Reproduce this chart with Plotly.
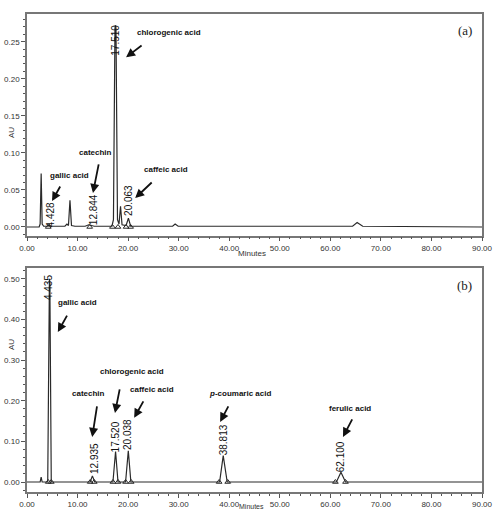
import plotly.graph_objects as go
from plotly.subplots import make_subplots

# ---------------- data ----------------
# Panel (a): chromatogram vertices (minutes, AU)
a_time = [0, 2.4, 2.6, 2.8, 3.0, 3.3, 4.2, 4.43, 4.7, 7.5, 7.9, 8.2, 8.5, 8.8, 9.5,
          11.5, 12.2, 12.84, 13.3, 16.8, 17.1, 17.4, 17.51, 17.6, 17.9, 18.2, 18.5,
          18.8, 19.6, 20.06, 20.5, 28.8, 29.3, 29.9, 34.2, 34.7, 35.2, 41.0, 41.5,
          42.0, 54.3, 55.0, 55.7, 64.4, 65.3, 66.4, 90]
a_au = [0, 0, 0.004, 0.072, 0.004, 0.001, 0.001, 0.003, 0.001, 0.001, 0.004, 0.002,
        0.036, 0.002, 0.001, 0.001, 0.003, 0.002, 0.001, 0.001, 0.010, 0.268, 0.272,
        0.268, 0.010, 0.004, 0.028, 0.003, 0.002, 0.012, 0.001, 0.001, 0.004, 0.001,
        0.001, 0.002, 0.001, 0.001, 0.0015, 0.001, 0.001, 0.002, 0.001, 0.001, 0.006,
        0.001, 0.0]
a_bounds = [4.2, 12.4, 16.9, 18.0, 19.6, 20.5]
a_rt_labels = ["4.428", "12.844", "17.510", "20.063"]
a_rt_x = [4.6, 13.3, 17.5, 20.1]
a_rt_y = [0.016, 0.023, 0.252, 0.036]
a_names = ["chlorogenic acid", "gallic acid", "catechin", "caffeic acid"]
a_name_x = [28.1, 8.5, 13.6, 27.5]
a_name_y = [0.262, 0.070, 0.100, 0.077]
a_arrow_x = [19.6, 4.95, 13.05, 21.4]
a_arrow_y = [0.229, 0.035, 0.046, 0.039]
a_arrow_ax = [17, 9, 6, 18]
a_arrow_ay = [-13, -16, -30, -17]

# Panel (b): standards chromatogram vertices (minutes, AU)
b_time = [0, 2.6, 2.8, 3.0, 4.1, 4.35, 4.435, 4.52, 4.8, 12.5, 12.935, 13.4, 17.0,
          17.52, 18.0, 19.5, 20.038, 20.55, 38.1, 38.813, 39.6, 61.2, 62.1, 63.0,
          67.5, 68.0, 68.5, 90]
b_au = [0, 0, 0.012, 0, 0, 0.49, 0.50, 0.49, 0, 0, 0.015, 0, 0, 0.075, 0, 0, 0.077,
        0, 0, 0.065, 0, 0, 0.024, 0, 0, 0.001, 0, 0]
b_bounds = [4.2, 4.8, 12.5, 13.3, 17.0, 18.0, 19.5, 20.6, 38.0, 39.7, 61.0, 63.0]
b_rt_labels = ["4.435", "12.935", "17.520", "20.038", "38.813", "62.100"]
b_rt_x = [4.4, 13.25, 17.5, 20.0, 38.8, 62.0]
b_rt_y = [0.478, 0.059, 0.111, 0.116, 0.103, 0.062]
b_names = ["gallic acid", "chlorogenic acid", "caffeic acid", "catechin",
           "<i>p</i>-coumaric acid", "ferulic acid"]
b_name_x = [9.9, 20.8, 24.7, 12.1, 42.1, 63.9]
b_name_y = [0.441, 0.271, 0.227, 0.219, 0.217, 0.182]
b_arrow_x = [6.1, 17.4, 21.2, 12.9, 38.2, 62.5]
b_arrow_y = [0.369, 0.170, 0.158, 0.111, 0.148, 0.111]
b_arrow_ax = [10, 5, 10, 5, 9, 10]
b_arrow_ay = [-18, -25, -18, -32, -17, -19]

x_ticks = [0, 10, 20, 30, 40, 50, 60, 70, 80, 90]
x_ticklabels = ["0.00", "10.00", "20.00", "30.00", "40.00", "50.00", "60.00",
                "70.00", "80.00", "90.00"]

# ---------------- figure ----------------
fig = make_subplots(rows=2, cols=1, vertical_spacing=0.07)
line_col = "#2a2a2a"

fig.add_trace(go.Scatter(x=a_time, y=a_au, mode="lines",
                         line=dict(color=line_col, width=1.2), showlegend=False),
              row=1, col=1)
fig.add_trace(go.Scatter(x=a_bounds, y=[0] * len(a_bounds), mode="markers",
                         marker=dict(symbol="triangle-up-open", size=5,
                                     color=line_col, line=dict(width=1)),
                         showlegend=False), row=1, col=1)
fig.add_trace(go.Scatter(x=b_time, y=b_au, mode="lines",
                         line=dict(color=line_col, width=1.2), showlegend=False),
              row=2, col=1)
fig.add_trace(go.Scatter(x=b_bounds, y=[0] * len(b_bounds), mode="markers",
                         marker=dict(symbol="triangle-up-open", size=5,
                                     color=line_col, line=dict(width=1)),
                         showlegend=False), row=2, col=1)

tick_font = dict(family="Liberation Sans, Arial", size=8, color="#333")
axis_common = dict(showline=True, linecolor="#777", linewidth=1.5, mirror=True,
                   ticks="outside", ticklen=4, tickcolor="#555", showgrid=False,
                   zeroline=False, tickfont=tick_font, automargin=False)

top_dom = [0.5366, 1.0]
bot_dom = [0.0, 0.468]
fig.update_layout(
    width=493, height=510,
    margin=dict(l=27, r=11, t=14, b=18, autoexpand=False),
    paper_bgcolor="white", plot_bgcolor="white",
    xaxis=dict(range=[0, 90], tickvals=x_ticks, ticktext=x_ticklabels,
               minor=dict(dtick=2, ticks="outside", ticklen=2, tickcolor="#555"),
               **axis_common),
    xaxis2=dict(range=[0, 90], tickvals=x_ticks, ticktext=x_ticklabels,
                minor=dict(dtick=2, ticks="outside", ticklen=2, tickcolor="#555"),
                **axis_common),
    yaxis=dict(domain=top_dom, range=[-0.0115, 0.2874], dtick=0.05, tickformat=".2f",
               minor=dict(dtick=0.01, ticks="outside", ticklen=2, tickcolor="#555"),
               **axis_common),
    yaxis2=dict(domain=bot_dom, range=[-0.0246, 0.526], dtick=0.1, tickformat=".2f",
                minor=dict(dtick=0.02, ticks="outside", ticklen=2, tickcolor="#555"),
                **axis_common),
)

annotations = []
name_font = dict(family="Liberation Sans, Arial", size=8, color="#111")
rt_font = dict(family="Liberation Sans, Arial", size=10, color="#111")


def add_panel(xr, yr, rt_labels, rt_x, rt_y, names, nx, ny, hx, hy, axs, ays):
    for t, x, y in zip(rt_labels, rt_x, rt_y):
        annotations.append(dict(x=x, y=y, xref=xr, yref=yr, text=t, showarrow=False,
                                textangle=-90, font=rt_font))
    for t, x, y in zip(names, nx, ny):
        annotations.append(dict(x=x, y=y, xref=xr, yref=yr, text="<b>" + t + "</b>",
                                showarrow=False, font=name_font))
    for x, y, ax, ay in zip(hx, hy, axs, ays):
        annotations.append(dict(x=x, y=y, xref=xr, yref=yr, text="", showarrow=True,
                                ax=ax, ay=ay, arrowhead=2, arrowsize=1,
                                arrowwidth=1.8, arrowcolor="#111"))


add_panel("x", "y", a_rt_labels, a_rt_x, a_rt_y, a_names, a_name_x, a_name_y,
          a_arrow_x, a_arrow_y, a_arrow_ax, a_arrow_ay)
add_panel("x2", "y2", b_rt_labels, b_rt_x, b_rt_y, b_names, b_name_x, b_name_y,
          b_arrow_x, b_arrow_y, b_arrow_ax, b_arrow_ay)

serif = dict(family="Liberation Serif, Times New Roman", size=13, color="#222")
small = dict(family="Liberation Sans", size=8, color="#333")
annotations += [
    dict(x=86.6, y=0.2645, xref="x", yref="y", text="(a)", showarrow=False, font=serif),
    dict(x=86.6, y=0.483, xref="x2", yref="y2", text="(b)", showarrow=False, font=serif),
    dict(x=-0.048, y=0.768, xref="paper", yref="paper", text="AU", textangle=-90,
         showarrow=False, font=small),
    dict(x=-0.048, y=0.293, xref="paper", yref="paper", text="AU", textangle=-90,
         showarrow=False, font=small),
    dict(x=0.4945, y=0.498, xref="paper", yref="paper", text="Minutes",
         showarrow=False, font=small),
    dict(x=0.4945, y=-0.0188, xref="paper", yref="paper", text="Minutes",
         showarrow=False, yanchor="top", font=dict(family="Liberation Sans", size=7,
                                                     color="#333")),
]
fig.update_layout(annotations=annotations)

fig.write_html("out.html")
